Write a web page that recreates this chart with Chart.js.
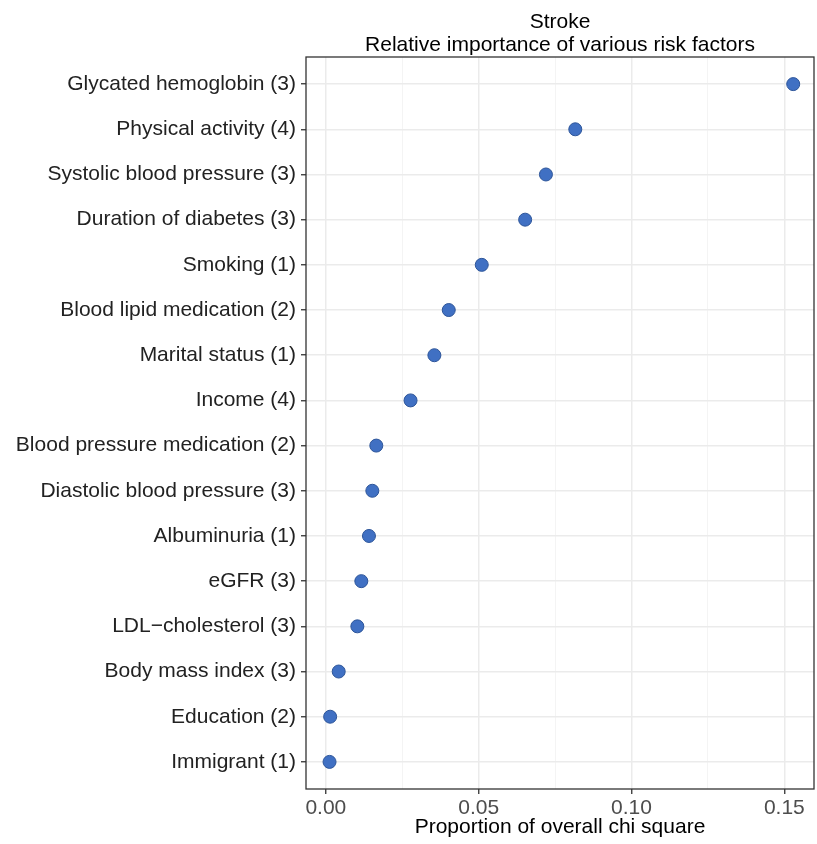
<!DOCTYPE html>
<html>
<head>
<meta charset="utf-8">
<script src="https://cdn.jsdelivr.net/npm/chart.js@4.4.1/dist/chart.umd.min.js"></script>
<style>
    html, body { margin: 0; padding: 0; background: #fff; }
    #wrap { width: 817px; height: 844px; }
</style>
</head>
<body>
<div id="wrap"><canvas id="riskChart" width="817" height="844"></canvas></div>
<script>
// Risk factors, top to bottom, with their share of overall chi square
const factors = [
    'Glycated hemoglobin (3)',
    'Physical activity (4)',
    'Systolic blood pressure (3)',
    'Duration of diabetes (3)',
    'Smoking (1)',
    'Blood lipid medication (2)',
    'Marital status (1)',
    'Income (4)',
    'Blood pressure medication (2)',
    'Diastolic blood pressure (3)',
    'Albuminuria (1)',
    'eGFR (3)',
    'LDL\u2212cholesterol (3)',
    'Body mass index (3)',
    'Education (2)',
    'Immigrant (1)'
];
const proportions = [0.1529, 0.0816, 0.0720, 0.0652, 0.0510, 0.0402, 0.0355, 0.0277,
    0.0165, 0.0152, 0.0141, 0.0116, 0.0103, 0.0042, 0.0014, 0.0012];

const majorTicks = [0, 0.05, 0.10, 0.15];
const minorTicks = [0.025, 0.075, 0.125];
const titleLines = ['Stroke', 'Relative importance of various risk factors'];
const xTitle = 'Proportion of overall chi square';

const FONT = "'Liberation Sans', Arial, Helvetica, sans-serif";

// two-line title over the panel, plus the panel border
const panelDecor = {
    id: 'panelDecor',
    afterDraw(chart) {
        const { ctx, chartArea: a } = chart;
        ctx.save();
        ctx.strokeStyle = '#333333';
        ctx.lineWidth = 1.3;
        ctx.strokeRect(a.left, a.top, a.right - a.left, a.bottom - a.top);
        ctx.fillStyle = '#000';
        ctx.font = '21px ' + FONT;
        ctx.textAlign = 'center';
        ctx.textBaseline = 'middle';
        const cx = (a.left + a.right) / 2;
        titleLines.forEach((t, i) => ctx.fillText(t, cx, 22 + i * 23));
        ctx.restore();
    }
};

const ctx = document.getElementById('riskChart').getContext('2d');
new Chart(ctx, {
    type: 'scatter',
    data: {
        datasets: [{
            data: proportions.map((v, i) => ({ x: v, y: i })),
            backgroundColor: '#4070c3',
            borderColor: '#2d5599',
            borderWidth: 1,
            pointRadius: 6.5,
            pointHoverRadius: 6.5
        }]
    },
    options: {
        responsive: false,
        animation: false,
        layout: {
            autoPadding: false,
            padding: { top: 57, right: 3, left: 0, bottom: 0 }
        },
        plugins: {
            legend: { display: false },
            tooltip: { enabled: false }
        },
        scales: {
            x: {
                type: 'linear',
                min: -0.0065,
                max: 0.1597,
                afterBuildTicks: s => {
                    s.ticks = majorTicks.concat(minorTicks)
                        .sort((a, b) => a - b)
                        .map(v => ({ value: v }));
                },
                afterFit: s => {
                    s.height = 55;
                    s.paddingLeft = 0;
                    s.paddingRight = 0;
                },
                ticks: {
                    autoSkip: false,
                    maxRotation: 0,
                    padding: 2,
                    color: '#4d4d4d',
                    font: { family: FONT, size: 21 },
                    callback: v => majorTicks.includes(v) ? v.toFixed(2) : ''
                },
                grid: {
                    color: c => minorTicks.includes(c.tick.value) ? '#f4f4f4' : '#ebebeb',
                    lineWidth: c => minorTicks.includes(c.tick.value) ? 1 : 1.5,
                    tickColor: c => minorTicks.includes(c.tick.value) ? 'rgba(0,0,0,0)' : '#333333',
                    tickLength: 5,
                    tickWidth: 1.3
                },
                border: { display: false },
                title: {
                    display: true,
                    text: xTitle,
                    color: '#000',
                    font: { family: FONT, size: 21 },
                    padding: { top: 0, bottom: 4 }
                }
            },
            y: {
                type: 'linear',
                reverse: true,
                min: -0.6,
                max: 15.6,
                afterBuildTicks: s => {
                    s.ticks = factors.map((f, i) => ({ value: i }));
                },
                afterFit: s => {
                    s.width = 306;
                    s.paddingTop = 0;
                    s.paddingBottom = 0;
                },
                ticks: {
                    autoSkip: false,
                    padding: 5,
                    color: '#222222',
                    font: { family: FONT, size: 21 },
                    callback: v => factors[v]
                },
                grid: {
                    color: '#ebebeb',
                    lineWidth: 1.5,
                    tickColor: '#333333',
                    tickLength: 5,
                    tickWidth: 1.3
                },
                border: { display: false }
            }
        }
    },
    plugins: [panelDecor]
});
</script>
</body>
</html>
